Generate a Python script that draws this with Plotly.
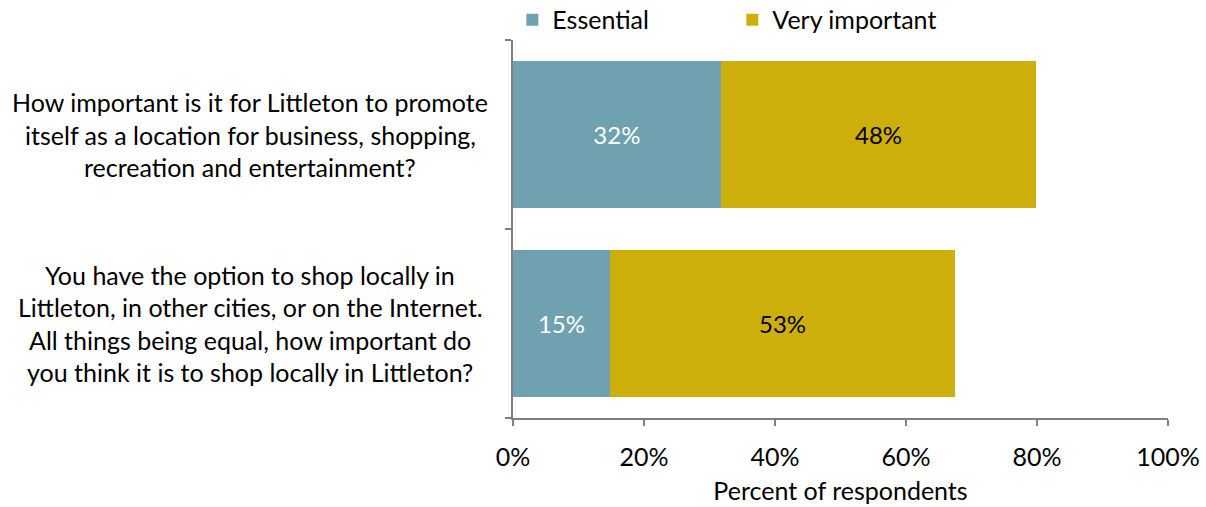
import plotly.graph_objects as go

questions = [
    "How important is it for Littleton to promote<br>itself as a location for business, shopping,<br>recreation and entertainment?",
    "You have the option to shop locally in<br>Littleton, in other cities, or on the Internet.<br>All things being equal, how important do<br>you think it is to shop locally in Littleton?",
]
cat_ids = ["Q1", "Q2"]
essential = [31.7, 14.8]
very_important = [48.2, 52.7]
essential_labels = ["32%", "15%"]
very_important_labels = ["48%", "53%"]
x_ticks = [0, 20, 40, 60, 80, 100]
x_tick_labels = ["0%", "20%", "40%", "60%", "80%", "100%"]

FONT = "Lato"
FS = 25
fig = go.Figure()
fig.add_trace(go.Bar(
    y=cat_ids, x=essential, orientation="h", name="Essential",
    marker=dict(color="#6FA1B0", line=dict(width=0)),
    text=essential_labels, textposition="inside", insidetextanchor="middle",
    textfont=dict(color="white", size=24, family=FONT), width=0.775,
))
fig.add_trace(go.Bar(
    y=cat_ids, x=very_important, orientation="h", name="Very important",
    marker=dict(color="#CDAF0B", line=dict(width=0)),
    text=very_important_labels, textposition="inside", insidetextanchor="middle",
    textfont=dict(color="black", size=24, family=FONT), width=0.775,
))

# centered multi-line category labels
for cid, q in zip(cat_ids, questions):
    lines = q.split("<br>")
    n = len(lines)
    for i, ln in enumerate(lines):
        off = (i - (n - 1) / 2) * 32.5
        fig.add_annotation(
            x=-0.4015, xref="paper", y=cid, yref="y", yshift=-off,
            text=ln, showarrow=False, xanchor="center",
            font=dict(size=FS, family=FONT, color="black"),
        )

fig.update_layout(
    barmode="stack",
    width=1206, height=507,
    margin=dict(l=513, r=38, t=40, b=89, autoexpand=False),
    paper_bgcolor="white", plot_bgcolor="white",
    font=dict(family=FONT, size=FS, color="black"),
    uniformtext=dict(minsize=10, mode="show"),
    legend=dict(
        orientation="h", x=-0.001, xanchor="left", y=1.114, yanchor="top",
        entrywidth=175, entrywidthmode="pixels",
        font=dict(size=FS, family=FONT), itemwidth=30,
        traceorder="normal", bgcolor="rgba(0,0,0,0)",
    ),
    xaxis=dict(
        range=[0, 100], tickvals=x_ticks, ticktext=x_tick_labels,
        showgrid=False, zeroline=False,
        showline=True, linecolor="#808080", linewidth=2,
        ticks="outside", ticklen=6, tickcolor="#808080", tickwidth=2,
        ticklabelstandoff=10,
        title=dict(text="Percent of respondents", standoff=12, font=dict(size=FS, family=FONT)),
        tickfont=dict(size=FS, family=FONT),
    ),
    yaxis=dict(
        categoryorder="array", categoryarray=cat_ids[::-1],
        range=[-0.5, 1.5],
        showticklabels=False, showgrid=False, zeroline=False,
        showline=True, linecolor="#808080", linewidth=2,
        ticks="outside", ticklen=6, tickcolor="#808080", tickwidth=2,
        tickson="boundaries",
    ),
)

fig.write_html("out.html")
